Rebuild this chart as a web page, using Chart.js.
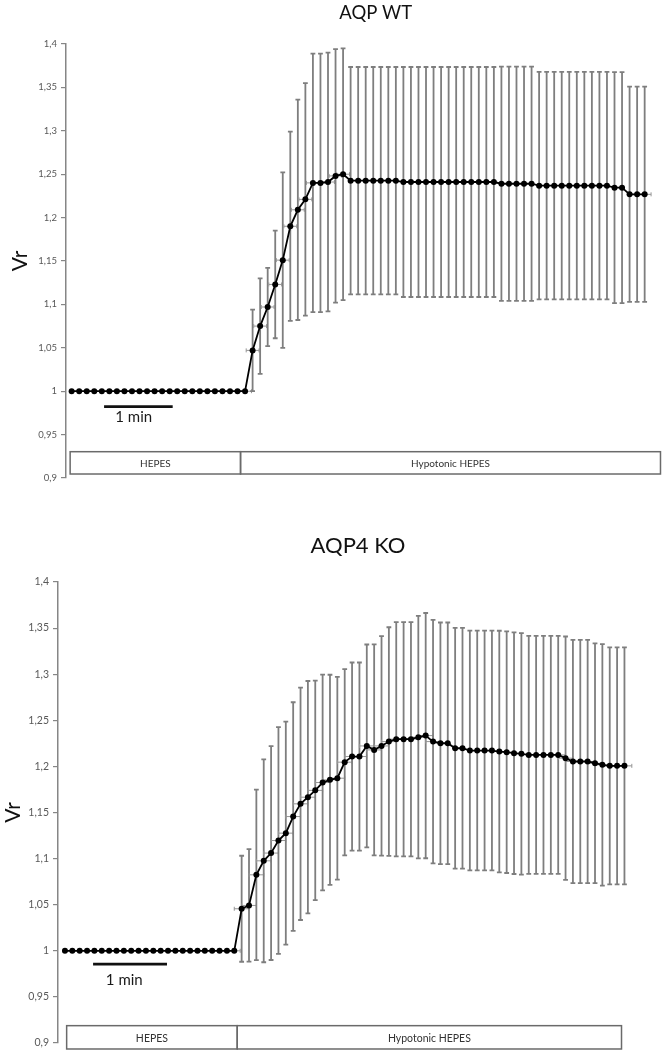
<!DOCTYPE html>
<html><head><meta charset="utf-8">
<script src="https://cdn.jsdelivr.net/npm/chart.js@4.4.1/dist/chart.umd.min.js"></script>
<style>
html,body{margin:0;padding:0;background:#fff;width:666px;height:1055px;overflow:hidden}
#c1{position:absolute;left:0;top:0}
#c2{position:absolute;left:0;top:500px}
</style></head><body>
<canvas id="c1" width="666" height="500"></canvas>
<canvas id="c2" width="666" height="555"></canvas>
<script>
// ---- data ----
const timePoints = [0,1,2,3,4,5,6,7,8,9,10,11,12,13,14,15,16,17,18,19,20,21,22,23,24,25,26,27,28,29,30,31,32,33,34,35,36,37,38,39,40,41,42,43,44,45,46,47,48,49,50,51,52,53,54,55,56,57,58,59,60,61,62,63,64,65,66,67,68,69,70,71,72,73,74,75,76];

const wtMean = [1,1,1,1,1,1,1,1,1,1,1,1,1,1,1,1,1,1,1,1,1,1,1,1,
  1.047,1.075,1.097,1.123,1.151,1.190,1.209,1.221,1.240,1.240,1.241,1.248,1.250,
  1.2425,1.2425,1.2425,1.2425,1.2425,1.2425,1.2425,
  1.241,1.241,1.241,1.241,1.241,1.241,1.241,1.241,1.241,1.241,1.241,1.241,1.241,
  1.239,1.239,1.239,1.239,1.239,
  1.2368,1.2368,1.2368,1.2368,1.2368,1.2368,1.2368,1.2368,1.2368,1.2368,
  1.2345,1.2345,
  1.2268,1.2268,1.2268];
const wtErr = [0,0,0,0,0,0,0,0,0,0,0,0,0,0,0,0,0,0,0,0,0,0,0,0,
  0.047,0.055,0.045,0.062,0.101,0.109,0.127,0.134,0.149,0.149,0.149,0.146,0.145,
  0.131,0.131,0.131,0.131,0.131,0.131,0.131,
  0.1325,0.1325,0.1325,0.1325,0.1325,0.1325,0.1325,0.1325,0.1325,0.1325,0.1325,0.1325,0.1325,
  0.135,0.135,0.135,0.135,0.135,
  0.131,0.131,0.131,0.131,0.131,0.131,0.131,0.131,0.131,0.131,
  0.133,0.133,
  0.124,0.124,0.124];
const wtXErr = [0,0,0,0,0,0,0,0,0,0,0,0,0,0,0,0,0,0,0,0,0,0,0,0.85,
  0.85,0.85,0.85,0.85,0.85,0.85,0.85,0.85,0.85,0.85,0.85,0.85,0.85,
  0,0,0,0,0,0,0,0,0,0,0,0,0,0,0,0,0,0,0,0,0,0,0,0,0,0,0,0,0,0,0,0,0,0,0,0,0,0,
  0.85,0.85,0.85,1.0];

const koMean = [1,1,1,1,1,1,1,1,1,1,1,1,1,1,1,1,1,1,1,1,1,1,1,1,
  1.0456,1.0492,1.0824,1.0976,1.106,1.1196,1.1276,1.1456,1.1594,1.1666,1.174,
  1.1825,1.1854,1.1872,1.2046,1.2107,1.2107,1.2222,1.2179,1.2222,1.2269,
  1.2295,1.2295,1.2295,1.2317,1.2334,1.2269,1.2251,1.2251,1.2197,1.2197,
  1.2172,1.2172,1.2172,1.2172,1.2161,1.2154,1.2143,1.2136,
  1.2125,1.2125,1.2125,1.2125,1.2125,1.2089,1.2053,1.2053,1.2053,1.2035,1.2017,
  1.2006,1.2006,1.2006];
const koErr = [0,0,0,0,0,0,0,0,0,0,0,0,0,0,0,0,0,0,0,0,0,0,0,0,
  0.0575,0.061,0.0925,0.110,0.116,0.123,0.121,0.124,0.126,0.126,0.119,
  0.117,0.114,0.110,0.101,0.102,0.102,0.110,0.1145,0.119,0.124,
  0.127,0.127,0.127,0.1315,0.133,0.132,0.131,0.131,0.1305,0.1305,
  0.130,0.130,0.130,0.130,0.131,0.131,0.131,0.131,
  0.129,0.129,0.129,0.129,0.129,0.132,0.132,0.132,0.132,0.130,0.131,
  0.1285,0.1285,0.1285];
const koXErr = [0,0,0,0,0,0,0,0,0,0,0,0,0,0,0,0,0,0,0,0,0,0,0,0.8,
  1.0,1.0,1.0,1.0,1.0,1.0,1.0,1.0,1.0,1.0,1.0,1.0,1.0,1.0,1.0,1.0,1.0,1.0,1.0,1.0,1.0,1.0,1.0,1.0,1.0,1.0,1.0,
  0,0,0,0,0,0,0,0,0,0,0,0,0,0,0,0,
  1.0,1.0,1.0,1.0,1.0,1.0,1.0,1.0,1.0,1.0];

const yTickLabels = ['0,9','0,95','1','1,05','1,1','1,15','1,2','1,25','1,3','1,35','1,4'];
const phaseLabels = ['HEPES','Hypotonic HEPES'];
const wtPhaseBounds = [-0.2, 22.4, 78.1];
const koPhaseBounds = [0.23, 23.4, 75.6];
const scaleBarText = '1 min';
const wtScaleBar = [4.3, 13.4];
const koScaleBar = [3.82, 13.86];
const titles = ['AQP WT', 'AQP4 KO'];
const yTitle = 'Vr';

// ---- plugins ----
function makeErrorPlugin(err, xerr) {
  return {
    id: 'errbars',
    beforeDatasetsDraw(chart) {
      const {ctx, scales: {x, y}} = chart;
      const data = chart.data.datasets[0].data;
      ctx.save();
      data.forEach((p, i) => {
        const px = x.getPixelForValue(p.x);
        const e = err[i];
        if (e > 0) {
          const t = y.getPixelForValue(p.y + e), b = y.getPixelForValue(p.y - e);
          ctx.strokeStyle = '#7e7e7e'; ctx.lineWidth = 1.8;
          ctx.beginPath();
          ctx.moveTo(px, t); ctx.lineTo(px, b);
          ctx.moveTo(px - 2.4, t); ctx.lineTo(px + 2.4, t);
          ctx.moveTo(px - 2.4, b); ctx.lineTo(px + 2.4, b);
          ctx.stroke();
        }
        const xe = xerr[i];
        if (xe > 0) {
          const py = y.getPixelForValue(p.y);
          const l = x.getPixelForValue(p.x - xe), r = x.getPixelForValue(p.x + xe);
          ctx.strokeStyle = '#959595'; ctx.lineWidth = 1;
          ctx.beginPath();
          ctx.moveTo(l, py); ctx.lineTo(r, py);
          ctx.moveTo(l, py - 2); ctx.lineTo(l, py + 2);
          ctx.moveTo(r, py - 2); ctx.lineTo(r, py + 2);
          ctx.stroke();
        }
      });
      ctx.restore();
    }
  };
}

function makeDecorPlugin(cfg) {
  return {
    id: 'decor',
    afterDraw(chart) {
      const {ctx, scales: {x, y}} = chart;
      ctx.save();
      // phase boxes
      const yt = y.getPixelForValue(cfg.boxTop), yb = y.getPixelForValue(cfg.boxBottom);
      ctx.strokeStyle = '#6a6a6a'; ctx.lineWidth = 1.5;
      ctx.fillStyle = '#333';
      ctx.font = cfg.boxFont;
      ctx.textAlign = 'center'; ctx.textBaseline = 'middle';
      for (let k = 0; k < cfg.bounds.length - 1; k++) {
        const x0 = x.getPixelForValue(cfg.bounds[k]), x1 = x.getPixelForValue(cfg.bounds[k + 1]);
        ctx.strokeRect(x0, yt, x1 - x0, yb - yt);
        ctx.fillText(phaseLabels[k], (x0 + x1) / 2, (yt + yb) / 2 + 1);
      }
      // scale bar
      const sy = y.getPixelForValue(cfg.barY);
      ctx.strokeStyle = '#111'; ctx.lineWidth = 2.6;
      ctx.beginPath();
      ctx.moveTo(x.getPixelForValue(cfg.bar[0]), sy);
      ctx.lineTo(x.getPixelForValue(cfg.bar[1]), sy);
      ctx.stroke();
      ctx.fillStyle = '#1a1a1a'; ctx.font = cfg.barFont;
      ctx.fillText(scaleBarText, x.getPixelForValue(cfg.barLabelX), y.getPixelForValue(cfg.barLabelY));
      // title
      ctx.fillStyle = '#111'; ctx.font = cfg.titleFont;
      ctx.fillText(cfg.title, cfg.titleX, cfg.titleY);
      ctx.restore();
    }
  };
}

function makeChart(id, mean, err, xerr, opt, decor) {
  return new Chart(document.getElementById(id), {
    type: 'line',
    data: {
      datasets: [{
        data: timePoints.map((t, i) => ({x: t, y: mean[i]})),
        borderColor: '#000', borderWidth: 1.8,
        pointRadius: 3, pointBackgroundColor: '#000', pointBorderWidth: 0,
        tension: 0
      }]
    },
    options: {
      responsive: false, animation: false, devicePixelRatio: 1, events: [],
      layout: {padding: {top: opt.padTop, bottom: opt.padBottom, left: 0, right: 0}},
      plugins: {legend: {display: false}, tooltip: {enabled: false}, title: {display: false}},
      scales: {
        x: {type: 'linear', display: false, min: opt.xMin, max: opt.xMax},
        y: {
          min: 0.9, max: 1.4,
          afterFit(s) { s.width = opt.axisWidth; },
          border: {display: true, color: '#868686', width: 1.5},
          grid: {drawOnChartArea: false, drawTicks: true, tickLength: 5, color: '#868686', lineWidth: 1.2},
          ticks: {
            stepSize: 0.05, padding: 4, color: '#595959',
            font: {family: 'Lato', size: opt.tickSize},
            callback: (v) => yTickLabels[Math.round((v - 0.9) / 0.05)]
          },
          title: {display: true, text: yTitle, color: '#111',
            font: {family: 'Lato', size: 21}, padding: {top: opt.titlePad, bottom: 0}}
        }
      }
    },
    plugins: [makeErrorPlugin(err, xerr), makeDecorPlugin(decor)]
  });
}

makeChart('c1', wtMean, wtErr, wtXErr,
  {padTop: 44, padBottom: 22, xMin: -0.75, xMax: 78.3, axisWidth: 66, tickSize: 9.5, titlePad: 8},
  {bounds: wtPhaseBounds, boxTop: 0.9303, boxBottom: 0.9046, boxFont: '10px Lato',
   bar: wtScaleBar, barY: 0.9822, barLabelX: 8.23, barLabelY: 0.9706, barFont: '15px Lato',
   title: titles[0], titleX: 375.7, titleY: 13, titleFont: '18.5px Lato'});

makeChart('c2', koMean, koErr, koXErr,
  {padTop: 82, padBottom: 12, xMin: -0.945, xMax: 81.1, axisWidth: 58, tickSize: 10.5, titlePad: 1},
  {bounds: koPhaseBounds, boxTop: 0.9188, boxBottom: 0.8935, boxFont: '10.5px Lato',
   bar: koScaleBar, barY: 0.9856, barLabelX: 8.06, barLabelY: 0.9686, barFont: '15px Lato',
   title: titles[1], titleX: 358, titleY: 46, titleFont: '22px Lato'});
</script>
</body></html>
